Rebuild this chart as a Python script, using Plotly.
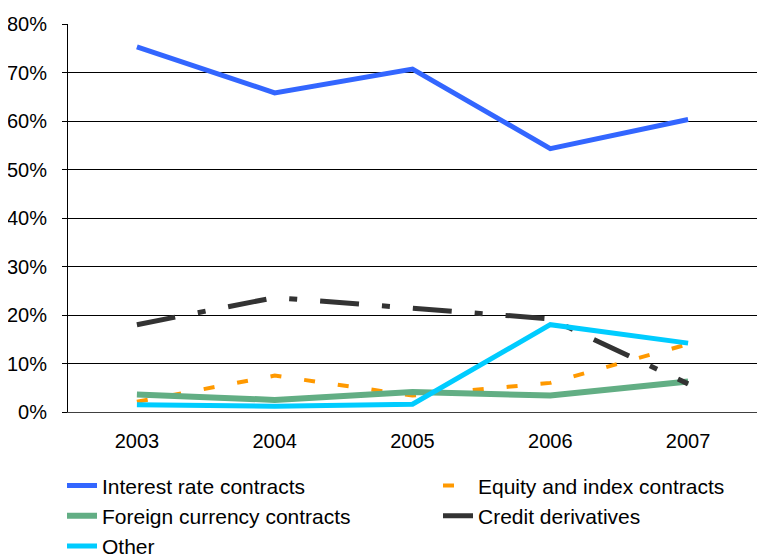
import plotly.graph_objects as go

years = ["2003", "2004", "2005", "2006", "2007"]
interest_rate = [0.753, 0.658, 0.707, 0.543, 0.603]
equity_index = [0.021, 0.075, 0.034, 0.060, 0.140]
foreign_currency = [0.036, 0.025, 0.041, 0.034, 0.063]
credit_deriv = [0.180, 0.236, 0.214, 0.192, 0.058]
other = [0.015, 0.012, 0.016, 0.180, 0.142]

FONT = "Liberation Sans, Arial, sans-serif"

fig = go.Figure()
fig.add_trace(go.Scatter(x=years, y=interest_rate, mode="lines", name="Interest rate contracts",
                         line=dict(color="#3366FF", width=5)))
fig.add_trace(go.Scatter(x=years, y=equity_index, mode="lines", name="Equity and index contracts",
                         line=dict(color="#FF9900", width=4, dash="11px,23px")))
fig.add_trace(go.Scatter(x=years, y=foreign_currency, mode="lines", name="Foreign currency contracts",
                         line=dict(color="#62AE84", width=6)))
fig.add_trace(go.Scatter(x=years, y=credit_deriv, mode="lines", name="Credit derivatives",
                         line=dict(color="#333333", width=5, dash="39px,23px,8px,23px")))
fig.add_trace(go.Scatter(x=years, y=other, mode="lines", name="Other",
                         line=dict(color="#00CCFF", width=5)))

fig.update_layout(
    width=774, height=560,
    margin=dict(l=60, r=25, t=16, b=156, autoexpand=False),
    paper_bgcolor="white", plot_bgcolor="white",
    font=dict(family=FONT, size=20, color="black"),
    xaxis=dict(type="category", range=[-0.5, 4.5], showgrid=False, showline=True,
               linecolor="#404040", linewidth=1, ticks="", ticklabelstandoff=11,
               tickfont=dict(size=20)),
    yaxis=dict(range=[0, 0.8], dtick=0.1, tickformat=".0%", showgrid=True,
               gridcolor="black", gridwidth=1, showline=True, linecolor="black",
               linewidth=1, ticks="outside", ticklen=5, tickcolor="black",
               zeroline=False, tickfont=dict(size=20), ticklabelstandoff=11),
    showlegend=True,
    legend=dict(orientation="h", x=-0.0087, xanchor="left", y=-0.1375, yanchor="top",
                entrywidth=331, entrywidthmode="pixels", traceorder="normal",
                font=dict(size=21, family=FONT), bgcolor="rgba(0,0,0,0)",
                tracegroupgap=0, itemwidth=30),
)

fig.write_html("out.html")
